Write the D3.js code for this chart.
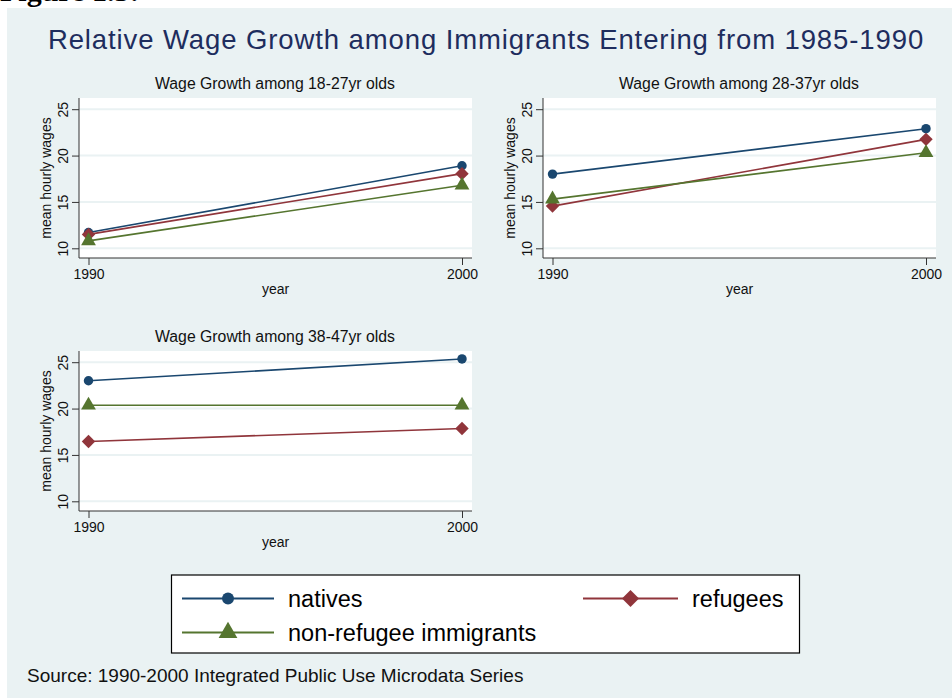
<!DOCTYPE html>
<html>
<head>
<meta charset="utf-8">
<script src="https://d3js.org/d3.v7.min.js"></script>
<style>
  body { margin: 0; background: #fff; }
  svg text { font-family: "Liberation Sans", Arial, sans-serif; }
</style>
</head>
<body>
<div id="vis"></div>
<script>
  // values
  var years = [1990, 2000]
  var yTicks = [10, 15, 20, 25]
  var seriesNames = ["natives", "refugees", "non-refugee immigrants"]
  var panelTitles = ["Wage Growth among 18-27yr olds", "Wage Growth among 28-37yr olds", "Wage Growth among 38-47yr olds"]

  var natives = [[11.7, 18.9], [18.0, 22.9], [23.0, 25.35]]
  var refugees = [[11.5, 18.05], [14.55, 21.75], [16.45, 17.85]]
  var nonRefugees = [[10.8, 16.8], [15.3, 20.3], [20.35, 20.35]]

  var colors = ["#1a476f", "#90353b", "#55752f"]
  // diamond = square turned 45 degrees
  var shapes = [d3.symbolCircle, d3.symbolSquare, d3.symbolTriangle]
  var rotations = [0, 45, 0]
  var symSizes = [70, 90, 95]

  var svg = d3.select("#vis").append("svg")
    .attr("width", 952)
    .attr("height", 700)

  // outer graph region
  svg.append("rect")
    .attr("x", 7).attr("y", 8)
    .attr("width", 945).attr("height", 690)
    .attr("fill", "#eaf2f3")

  // caption cut off at the top of the page
  svg.append("text")
    .attr("x", 0).attr("y", 1)
    .style("font-family", "'Liberation Serif', 'Times New Roman', serif")
    .style("font-weight", "bold")
    .style("font-size", "30px")
    .attr("fill", "#000")
    .text("Figure 1.5:")

  svg.append("text")
    .attr("x", 486).attr("y", 48.5)
    .attr("text-anchor", "middle")
    .style("font-size", "27.5px")
    .style("letter-spacing", "0.9px")
    .attr("fill", "#1e2d5e")
    .text("Relative Wage Growth among Immigrants Entering from 1985-1990")

  // plot boxes
  var panels = [
    {x: 79, y: 98, w: 393, h: 160},
    {x: 543, y: 98, w: 393, h: 160},
    {x: 79, y: 351, w: 393, h: 160}
  ]

  panels.forEach(function(p, i) {
    var g = svg.append("g")

    var x = d3.scaleLinear()
      .domain(d3.extent(years))
      .range([p.x + 9.5, p.x + p.w - 10])
    var y = d3.scaleLinear()
      .domain([10, 25])
      .range([p.y + p.h - 9.7, p.y + 11.2])

    g.append("rect")
      .attr("x", p.x).attr("y", p.y)
      .attr("width", p.w).attr("height", p.h)
      .attr("fill", "#fff")

    // grid
    g.selectAll(".grid")
      .data(yTicks)
      .enter()
      .append("line")
        .attr("x1", p.x).attr("x2", p.x + p.w)
        .attr("y1", function(d) { return y(d) })
        .attr("y2", function(d) { return y(d) })
        .attr("stroke", "#eaf2f3")
        .attr("stroke-width", 2)

    // y axis
    var yAxis = g.append("g")
      .attr("transform", "translate(" + p.x + ",0)")
      .call(d3.axisLeft(y).tickValues(yTicks).tickSize(7).tickSizeOuter(0))
    yAxis.select(".domain").attr("stroke", "#333").attr("d", "M0," + p.y + "V" + (p.y + p.h))
    yAxis.selectAll(".tick line").attr("stroke", "#333")
    yAxis.selectAll(".tick text")
      .attr("x", null).attr("dy", null)
      .attr("text-anchor", "middle")
      .attr("transform", "translate(-11,0) rotate(-90)")
      .style("font-size", "14px")
      .attr("fill", "#111")

    // x axis
    var xAxis = g.append("g")
      .attr("transform", "translate(0," + (p.y + p.h) + ")")
      .call(d3.axisBottom(x).tickValues(years).tickFormat(d3.format("d")).tickSize(7).tickSizeOuter(0))
    xAxis.select(".domain").attr("stroke", "#333").attr("d", "M" + p.x + ",0H" + (p.x + p.w))
    xAxis.selectAll(".tick line").attr("stroke", "#333")
    xAxis.selectAll(".tick text")
      .attr("y", 21).attr("dy", null)
      .style("font-size", "14px")
      .attr("fill", "#111")

    g.append("text")
      .attr("x", p.x + p.w / 2).attr("y", p.y + p.h + 36)
      .attr("text-anchor", "middle")
      .style("font-size", "14px")
      .attr("fill", "#111")
      .text("year")

    g.append("text")
      .attr("transform", "translate(" + (p.x - 28) + "," + (p.y + p.h / 2) + ") rotate(-90)")
      .attr("text-anchor", "middle")
      .style("font-size", "14px")
      .attr("fill", "#111")
      .text("mean hourly wages")

    g.append("text")
      .attr("x", p.x + p.w / 2 - 0.5).attr("y", p.y - 9)
      .attr("text-anchor", "middle")
      .style("font-size", "15.8px")
      .attr("fill", "#111")
      .text(panelTitles[i])

    var data = [natives[i], refugees[i], nonRefugees[i]]
    var line = d3.line()
      .x(function(d, j) { return x(years[j]) })
      .y(function(d) { return y(d) })

    data.forEach(function(vals, s) {
      g.append("path")
        .attr("d", line(vals))
        .attr("fill", "none")
        .attr("stroke", colors[s])
        .attr("stroke-width", 1.6)
      g.selectAll(".m" + s)
        .data(vals)
        .enter()
        .append("path")
          .attr("d", d3.symbol().type(shapes[s]).size(symSizes[s]))
          .attr("transform", function(d, j) {
            return "translate(" + x(years[j]) + "," + y(d) + ") rotate(" + rotations[s] + ")"
          })
          .attr("fill", colors[s])
    })
  })

  // legend
  var legend = svg.append("g")
  legend.append("rect")
    .attr("x", 171.5).attr("y", 575)
    .attr("width", 628).attr("height", 78)
    .attr("fill", "#fff")
    .attr("stroke", "#000")
    .attr("stroke-width", 1.2)

  var legendPos = [
    {x1: 182, x2: 274, y: 598.5},
    {x1: 583, x2: 678, y: 598.5},
    {x1: 182, x2: 274, y: 632.5}
  ]
  legendPos.forEach(function(lp, s) {
    legend.append("line")
      .attr("x1", lp.x1).attr("x2", lp.x2)
      .attr("y1", lp.y).attr("y2", lp.y)
      .attr("stroke", colors[s])
      .attr("stroke-width", 2)
    legend.append("path")
      .attr("d", d3.symbol().type(shapes[s]).size(symSizes[s] * 1.6))
      .attr("transform", "translate(" + (lp.x1 + lp.x2) / 2 + "," + lp.y + ") rotate(" + rotations[s] + ")")
      .attr("fill", colors[s])
    legend.append("text")
      .attr("x", lp.x2 + 14).attr("y", lp.y + 8)
      .style("font-size", "23.5px")
      .attr("fill", "#000")
      .text(seriesNames[s])
  })

  svg.append("text")
    .attr("x", 27).attr("y", 682)
    .style("font-size", "19px")
    .attr("fill", "#111")
    .text("Source: 1990-2000 Integrated Public Use Microdata Series")
</script>
</body>
</html>
